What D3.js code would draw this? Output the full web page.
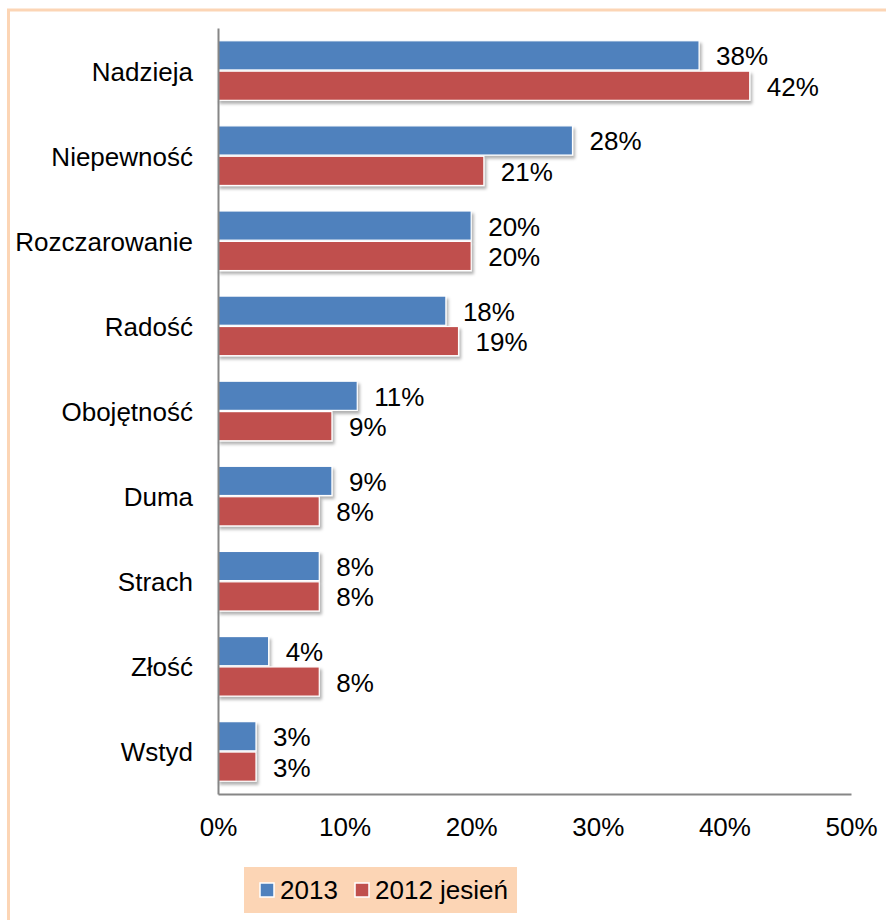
<!DOCTYPE html>
<html>
<head>
<meta charset="utf-8">
<script src="https://cdn.jsdelivr.net/npm/d3@7"></script>
<style>
  html, body { margin: 0; padding: 0; background: #fff; }
  svg { display: block; font-family: "Liberation Sans", Arial, sans-serif; }
</style>
</head>
<body>
<svg id="chart" width="886" height="920"></svg>
<script>
const categories = ["Nadzieja", "Niepewność", "Rozczarowanie", "Radość", "Obojętność", "Duma", "Strach", "Złość", "Wstyd"];
const series2013 = [38, 28, 20, 18, 11, 9, 8, 4, 3];
const series2012 = [42, 21, 20, 19, 9, 8, 8, 8, 3];
const seriesNames = ["2013", "2012 jesień"];
const seriesColors = ["#4F81BD", "#C0504D"];
const xTicks = [0, 10, 20, 30, 40, 50];

const FONT = "'Liberation Sans', Arial, sans-serif";
const svg = d3.select("#chart");
const defs = svg.append("defs");
const f = defs.append("filter").attr("id", "shadow").attr("x", "-10%").attr("y", "-20%").attr("width", "130%").attr("height", "160%");
f.append("feDropShadow").attr("dx", 2).attr("dy", 3).attr("stdDeviation", 1.8).attr("flood-color", "#000").attr("flood-opacity", 0.3);

// outer border
svg.append("rect").attr("x", 8.5).attr("y", 10).attr("width", 900).attr("height", 930)
  .attr("fill", "none").attr("stroke", "#FCD5B5").attr("stroke-width", 3);

const plotLeft = 218, plotRight = 851, plotTop = 28, plotBottom = 794;
const x = d3.scaleLinear().domain([0, 50]).range([plotLeft, plotRight]);
const y = d3.scaleBand().domain(categories).range([plotTop, plotBottom]).paddingInner(0.3).paddingOuter(0.15);
const sub = d3.scaleBand().domain(seriesNames).range([0, y.bandwidth()]).paddingInner(0.04);

const data = categories.map((c, i) => ({ cat: c, vals: [series2013[i], series2012[i]] }));

const groups = svg.append("g").selectAll("g").data(data).enter().append("g")
  .attr("transform", d => `translate(0,${y(d.cat)})`);

groups.selectAll("rect").data(d => d.vals.map((v, j) => ({ v, j }))).enter().append("rect")
  .attr("x", x(0))
  .attr("y", d => sub(seriesNames[d.j]))
  .attr("width", d => x(d.v) - x(0))
  .attr("height", sub.bandwidth())
  .attr("fill", d => seriesColors[d.j])
  .attr("stroke", "#fff").attr("stroke-width", 1.2)
  .attr("filter", "url(#shadow)");

groups.selectAll("text").data(d => d.vals.map((v, j) => ({ v, j }))).enter().append("text")
  .attr("x", d => x(d.v) + 17)
  .attr("y", d => sub(seriesNames[d.j]) + sub.bandwidth() / 2 + 1)
  .attr("dominant-baseline", "central")
  .attr("font-size", 26).attr("fill", "#000").attr("font-family", FONT)
  .text(d => d.v + "%");

// category labels
svg.append("g").selectAll("text").data(categories).enter().append("text")
  .attr("x", 193).attr("y", d => y(d) + y.bandwidth() / 2 + 1)
  .attr("text-anchor", "end").attr("dominant-baseline", "central")
  .attr("font-size", 26).attr("fill", "#000").attr("font-family", FONT).text(d => d);

// axes
const xAxis = d3.axisBottom(x).tickValues(xTicks).tickFormat(d => d + "%").tickSize(0).tickPadding(24);
const gx = svg.append("g").attr("transform", `translate(0,${plotBottom})`).call(xAxis);
gx.select(".domain").attr("stroke", "#868686").attr("stroke-width", 2);
gx.selectAll("text").attr("font-size", 26).attr("fill", "#000").attr("font-family", FONT);

const yAxis = d3.axisLeft(y).tickSize(0).tickFormat("");
const gy = svg.append("g").attr("transform", `translate(${plotLeft},0)`).call(yAxis);
gy.select(".domain").attr("stroke", "#868686").attr("stroke-width", 2);

// legend
const lg = svg.append("g");
lg.append("rect").attr("x", 244).attr("y", 867).attr("width", 273).attr("height", 46).attr("fill", "#FCD5B5");
const items = [{ x: 260, tx: 280 }, { x: 355, tx: 375 }];
seriesNames.forEach((n, i) => {
  lg.append("rect").attr("x", items[i].x).attr("y", 883).attr("width", 14).attr("height", 14)
    .attr("fill", seriesColors[i]).attr("stroke", "#fff").attr("stroke-width", 1.5);
  lg.append("text").attr("x", items[i].tx).attr("y", 899).attr("font-size", 26).attr("fill", "#000")
    .attr("font-family", FONT).text(n);
});
</script>
</body>
</html>
